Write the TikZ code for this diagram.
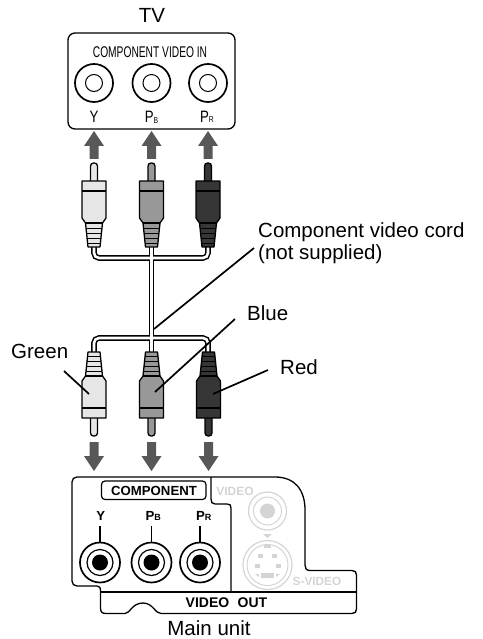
\documentclass[tikz,border=0pt]{standalone}
\usepackage{fontspec}
\setmainfont{Liberation Sans}
\tikzset{
  lbl/.style={inner sep=0pt,font=\fontsize{20.5}{22}\selectfont},
  boldlbl/.style={inner sep=0pt,font=\fontsize{14}{16}\selectfont\bfseries},
  tvlbl/.style={inner sep=0pt,xscale=0.8,font=\fontsize{16.5}{18}\selectfont},
  ghost/.style={inner sep=0pt,text=ghostgray,font=\fontsize{12}{14}\selectfont\bfseries},
  leader/.style={line width=1.7pt},
  bigarrow/.style={fill=arrowgray,draw=none},
  pluglight/.style={fill=plugA},
  plugmid/.style={fill=plugB},
  plugdark/.style={fill=plugC},
  panel/.style={line width=1.3pt,line join=round},
  pics/plug/.style={code={
    % drawn pin up, origin at the pin tip
    \draw[line width=1.3pt,#1,rounded corners=3pt] (-3.5,18) -- (-3.5,0) -- (3.5,0) -- (3.5,18);
    \draw[line width=1.3pt,#1,line join=round] (-12,18) -- (12,18) -- (12,55) -- (8.5,60) -- (6,84) -- (-6,84) -- (-8.5,60) -- (-12,55) -- cycle;
    \draw[line width=1.3pt] (-12,28) -- (12,28) (-8.5,60) -- (8.5,60);
    \foreach \y/\w in {65/7.6,70/7.2,75/6.8,80/6.4} {
      \draw[line width=1pt] (-\w,\y) -- (\w,\y);
    }
  }}
}
\definecolor{arrowgray}{HTML}{585858}
\definecolor{ghostgray}{HTML}{D4D4D4}
\definecolor{plugA}{HTML}{E6E6E6}
\definecolor{plugB}{HTML}{989898}
\definecolor{plugC}{HTML}{363636}
\begin{document}
\begin{tikzpicture}[x=1pt,y=-1pt]
\useasboundingbox (0,0) rectangle (482,639);

% TV panel
\node[lbl] (tv) at (152,15) {TV};
\draw[panel,rounded corners=7pt] (68,33) rectangle (235,129);
\node[inner sep=0pt,xscale=0.66,font=\fontsize{15.5}{17}\selectfont] (tvhead) at (150,52) {COMPONENT VIDEO IN};
\foreach \x/\n in {94/y,151.5/b,208/r} {
  \node[circle,draw,line width=1.7pt,minimum size=38pt,inner sep=0pt] (in\n) at (\x,83) {};
  \node[circle,draw,line width=1pt,minimum size=17pt,inner sep=0pt] at (\x,83) {};
}
\node[tvlbl] (ty) at (94,117) {Y};
\node[tvlbl] (tb) at (151.5,117.5) {P\raisebox{-0.5pt}{\fontsize{8.5}{8}\selectfont B}};
\node[tvlbl] (tr) at (207,117) {P\raisebox{-0.5pt}{\fontsize{8.5}{8}\selectfont R}};

% arrows up to the TV
\foreach \x in {94,151.5,208} {
  \fill[bigarrow] (\x,131) -- (\x+10,146) -- (\x+4.5,146) -- (\x+4.5,159) -- (\x-4.5,159) -- (\x-4.5,146) -- (\x-10,146) -- cycle;
}

% cords
\draw[line width=5.6pt,rounded corners=5pt] (94,246) |- (208,258) -- (208,246);
\draw[line width=5.6pt,rounded corners=5pt] (94,352) |- (208,338) -- (208,352);
\draw[line width=5.6pt] (151.5,246) -- (151.5,352);
\draw[line width=2.6pt,white,rounded corners=5pt] (94,246) |- (208,258) -- (208,246);
\draw[line width=2.6pt,white,rounded corners=5pt] (94,352) |- (208,338) -- (208,352);
\draw[line width=2.6pt,white] (151.5,246) -- (151.5,352);

% upper plugs
\foreach \x/\s in {94/pluglight,151.5/plugmid,208/plugdark} {
  \pic at (\x,163) {plug=\s};
}
% lower plugs, pin down
\foreach \x/\s in {94/pluglight,151.5/plugmid,208.5/plugdark} {
  \pic[yscale=-1] at (\x,436) {plug=\s};
}

% arrows down to the unit
\foreach \x in {94,151.5,208.5} {
  \fill[bigarrow] (\x,471) -- (\x+10,456) -- (\x+4.5,456) -- (\x+4.5,442) -- (\x-4.5,442) -- (\x-4.5,456) -- (\x-10,456) -- cycle;
}

% main unit outline
\draw[panel] (231,592) -- (231,508) .. controls (231,505) and (230,504) .. (227,504) -- (215,504) .. controls (212,504) and (211,502) .. (211,499) -- (211,477);
\draw[panel] (352,570.5) -- (310,570.5) .. controls (306,570.5) and (305,568) .. (305,565) -- (305,510) .. controls (305,490) and (295,477) .. (275,477) -- (77,477) .. controls (74,477) and (72,479) .. (72,482) -- (72,581) .. controls (72,584) and (74,586) .. (77,586) -- (97,586) .. controls (100,586) and (100.5,588) .. (100.5,590) -- (100.5,608) .. controls (100.5,612) and (102,613.5) .. (106,613.5) -- (125,613.5) .. controls (130,613.5) and (132,603) .. (143,603) .. controls (153,603) and (155,613.5) .. (161,613.5) -- (352,613.5) .. controls (355,613.5) and (356.5,612) .. (356.5,609) -- (356.5,575) .. controls (356.5,572) and (355,570.5) .. (352,570.5);
\draw[panel] (100.5,592) -- (356.5,592);
\draw[line width=1.2pt,rounded corners=3.5pt] (101.5,481) rectangle (206,499.5);
\node[inner sep=0pt,font=\fontsize{13.2}{15}\selectfont\bfseries] (comp) at (154,490.5) {COMPONENT};
\foreach \x/\xl/\n/\t in {100/100.7/y/Y,151.5/153.3/b/P\raisebox{-0.5pt}{\fontsize{9}{8}\selectfont B},200/203.8/r/P\raisebox{-0.5pt}{\fontsize{9}{8}\selectfont R}} {
  \node[boldlbl,font=\fontsize{13.2}{15}\selectfont\bfseries] (out\n) at (\xl,516) {\t};
  \node[circle,draw,line width=1.7pt,minimum size=40pt,inner sep=0pt] (jack\n) at (\x,562.5) {};
  \node[circle,draw,line width=1.2pt,minimum size=26pt,inner sep=0pt] at (\x,562.5) {};
  \node[circle,fill=black,minimum size=16pt,inner sep=0pt] at (\x,562.5) {};
  \draw[line width=1.2pt] (jack\n.north) -- ++(0,-16);
}
\node[boldlbl] (vout) at (226.5,603) {VIDEO\hspace{0.6em}OUT};

% greyed out connectors
\node[ghost] (vid) at (235,491) {VIDEO};
\node[circle,draw=ghostgray,line width=1.2pt,minimum size=38pt,inner sep=0pt] (vjack) at (267.5,511) {};
\node[circle,draw=ghostgray,line width=1pt,minimum size=28pt,inner sep=0pt] at (267.5,511) {};
\node[circle,fill=ghostgray,minimum size=15pt,inner sep=0pt] at (267.5,511) {};
\fill[ghostgray] (263,534) -- (272,534) -- (267.5,538) -- cycle;
\node[circle,draw=ghostgray,line width=1.2pt,minimum size=49pt,inner sep=0pt] (sjack) at (267.5,565) {};
\node[circle,draw=ghostgray,line width=1pt,minimum size=41pt,inner sep=0pt] at (267.5,565) {};
\fill[ghostgray] (264,544.5) rectangle (271,548);
\foreach \x/\y in {260/556,274/556,257/566,278/566} {
  \fill[ghostgray] (\x-2.5,\y-2) rectangle (\x+2.5,\y+2);
}
\fill[ghostgray] (261,572.5) rectangle (273.5,578);
\fill[ghostgray] (255,574) -- (259,574) -- (259,577) -- cycle;
\fill[ghostgray] (276,577) -- (276,574) -- (280,574) -- cycle;
\node[ghost,font=\fontsize{11.8}{13}\selectfont\bfseries] (svid) at (317,581) {S-VIDEO};

% labels and leaders
\node[lbl,align=left,anchor=north west] (cord) at (258,222) {Component video cord\\(not supplied)};
\node[lbl,anchor=west] (blue) at (247,313) {Blue};
\node[lbl,anchor=west] (red) at (280,367) {Red};
\node[lbl,anchor=west] (green) at (11,351) {Green};
\node[lbl] (unit) at (209,628) {Main unit};
\coordinate (cordend) at (154,329);
\coordinate (cordstart) at (254,248);
\coordinate (blueend) at (155,392);
\coordinate (bluestart) at (235,319);
\coordinate (redend) at (213,394);
\coordinate (redstart) at (268,370);
\coordinate (greenend) at (89,394);
\coordinate (greenstart) at (64,371);
\draw[leader] (cordstart) -- (cordend);
\draw[leader] (bluestart) -- (blueend);
\draw[leader] (redstart) -- (redend);
\draw[leader] (greenstart) -- (greenend);
\end{tikzpicture}
\end{document}
